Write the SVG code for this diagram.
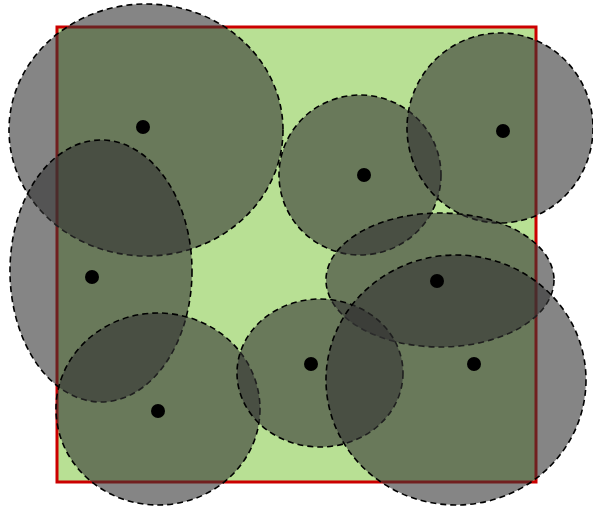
<svg xmlns="http://www.w3.org/2000/svg" width="593" height="509" viewBox="0 0 593 509">
<style>
.reg{fill:#b8e094;stroke:#cc0000;stroke-width:3}
.cov{fill:#333333;fill-opacity:0.6;stroke:#000;stroke-width:1.6;stroke-dasharray:6,4}
.pt{fill:#000}
</style>
<rect width="593" height="509" fill="#fff"/>
<g id="region"><rect class="reg" x="57" y="27" width="479" height="455"/></g>
<g id="cover1"><ellipse class="cov" cx="146" cy="130" rx="137" ry="126"/></g>
<g id="cover2"><ellipse class="cov" cx="101" cy="271" rx="91" ry="131"/></g>
<g id="cover3"><ellipse class="cov" cx="158" cy="409" rx="102" ry="96"/></g>
<g id="cover4"><ellipse class="cov" cx="360" cy="175" rx="81" ry="80"/></g>
<g id="cover5"><ellipse class="cov" cx="500" cy="128" rx="93" ry="95"/></g>
<g id="cover6"><ellipse class="cov" cx="440" cy="280" rx="114" ry="67"/></g>
<g id="cover7"><ellipse class="cov" cx="320" cy="373" rx="83" ry="74"/></g>
<g id="cover8"><ellipse class="cov" cx="456" cy="380" rx="130" ry="125"/></g>
<g id="points">
<circle class="pt" cx="143" cy="127" r="7"/>
<circle class="pt" cx="92" cy="277" r="7"/>
<circle class="pt" cx="158" cy="411" r="7"/>
<circle class="pt" cx="364" cy="175" r="7"/>
<circle class="pt" cx="503" cy="131" r="7"/>
<circle class="pt" cx="437" cy="281" r="7"/>
<circle class="pt" cx="311" cy="364" r="7"/>
<circle class="pt" cx="474" cy="364" r="7"/>
</g>
</svg>
